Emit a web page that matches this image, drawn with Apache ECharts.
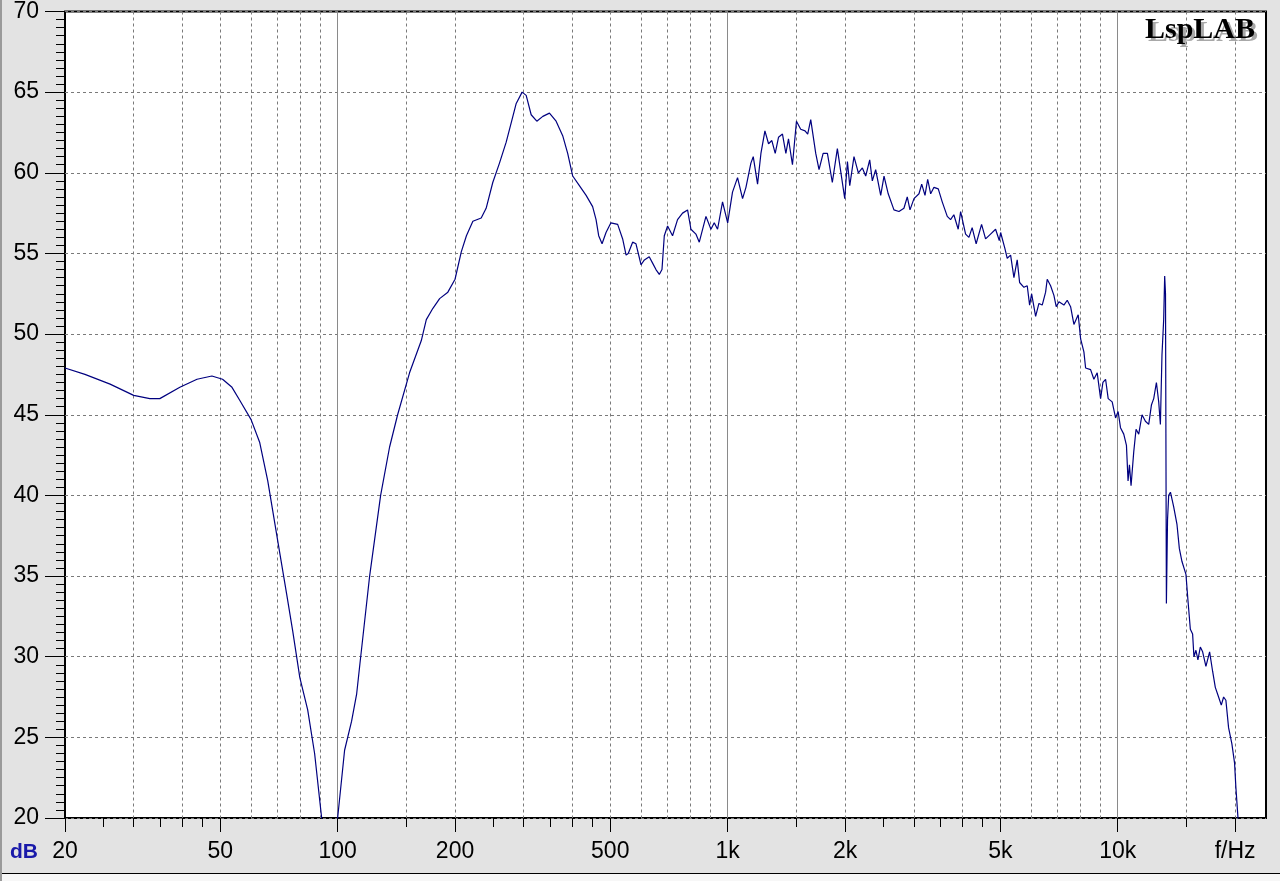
<!DOCTYPE html>
<html>
<head>
<meta charset="utf-8">
<script src="https://cdn.jsdelivr.net/npm/echarts@6/dist/echarts.min.js"></script>
<style>
html,body{margin:0;padding:0;background:#e3e3e3;}
#chart{width:1280px;height:881px;}
</style>
</head>
<body>
<div id="chart"></div>
<script>
// Frequency response (f in Hz, level in dB)
const freqHz = [
  20,22.5,26.1,30,33,35,39.4,43.6,47.6,50.7,53.6,56.1,60,63.1,66.2,70.2,74,76.7,80,83.8,87.3,91,93.5,
  97.5,100,104.2,108.6,111.9,114,120.8,128.9,135.9,142.5,152.9,163.9,168.8,175.5,182.6,191.7,200,
  207.5,213.9,222.2,233.4,240.3,249.9,260,270.5,278.6,287,297.2,304.4,313.5,324.1,335.8,349.2,363.2,
  377.6,388.9,400.6,416.7,433.6,450.6,459.8,467,476.4,487.7,502,522.4,538,549,556,570.6,582,599.7,
  611.6,629.4,642,654.9,667.9,678.6,687.9,701.4,722.3,743.9,766.2,789.2,805.1,829,845.7,879.7,906,
  923.8,942.1,970.2,1000,1029,1060,1092,1114,1147,1163,1193,1217,1246,1273,1298,1324,1350,1382,1410,
  1432,1466,1501,1539,1579,1604,1633,1682,1715,1757,1802,1855,1911,1996,2028,2056,2108,2163,2215,
  2259,2313,2349,2396,2468,2517,2580,2669,2749,2831,2887,2934,3004,3094,3144,3206,3257,3315,3380,
  3467,3549,3656,3728,3801,3900,3956,4074,4155,4235,4336,4477,4584,4721,4863,4970,5010,5139,5209,
  5314,5419,5525,5604,5748,5862,5945,6016,6160,6281,6405,6534,6596,6729,6862,6956,7068,7279,7423,
  7572,7722,7920,8034,8191,8274,8521,8688,8860,9039,9163,9310,9454,9679,9875,10024,10166,10364,
  10530,10630,10718,10820,10993,11144,11322,11545,11777,12009,12202,12369,12567,12739,12866,12987,
  13119,13196,13260,13330,13420,13512,13653,13913,14190,14391,14615,14962,15139,15355,15562,15684,
  15869,16057,16287,16510,16833,17205,17512,17793,18141,18432,18687,18939,19242,19622,19936,20090,
  20330,20800
];
const levelDb = [
  47.9,47.5,46.9,46.2,46.0,46.0,46.7,47.2,47.4,47.2,46.7,45.9,44.7,43.3,40.9,37.2,33.9,31.6,28.7,26.7,24.0,20.0,12,
  12,20.0,24.2,26.0,27.7,29.5,35,40,43,45,47.6,49.6,50.9,51.6,52.2,52.6,53.4,
  55.1,56.1,57.0,57.2,57.8,59.4,60.6,61.9,63.1,64.3,65.0,64.8,63.6,63.2,63.5,63.7,63.2,
  62.3,61.2,59.8,59.2,58.6,57.9,57.1,56.1,55.6,56.3,56.9,56.8,55.9,54.9,55.0,55.7,55.6,54.3,
  54.6,54.8,54.4,54.0,53.7,54.0,56.1,56.7,56.1,57.1,57.5,57.7,56.5,56.2,55.7,57.3,56.5,
  56.9,56.5,58.2,56.9,58.8,59.7,58.4,59.1,60.6,61.0,59.3,61.2,62.6,61.8,62.0,61.2,62.2,62.4,61.2,
  62.1,60.5,63.2,62.7,62.6,62.4,63.3,61.2,60.2,61.2,61.2,59.4,61.5,58.4,60.7,59.2,61.0,60.0,60.3,
  59.8,60.8,59.5,60.2,58.6,59.8,58.7,57.7,57.6,57.8,58.5,57.7,58.4,58.7,59.3,58.6,59.6,58.7,59.1,
  59.0,58.2,57.3,57.1,57.4,56.5,57.6,56.2,56.0,56.6,55.6,56.8,55.9,56.2,56.5,55.8,56.3,55.3,54.7,
  54.9,53.5,54.6,53.2,52.9,53.0,51.8,52.5,51.1,51.9,51.8,52.6,53.4,53.0,52.4,51.7,52.0,51.8,52.1,
  51.7,50.6,51.2,49.7,48.9,47.9,47.8,47.2,47.6,46.0,47.0,47.2,46.0,45.8,44.8,45.2,44.2,43.8,
  43.1,40.9,41.9,40.6,42.7,44.1,43.8,45.0,44.6,44.4,45.6,46.0,47.0,45.8,44.4,48.7,
  50.9,53.6,52.5,33.3,38.5,40.0,40.2,39.3,38.2,36.7,35.9,35.1,33.5,31.7,31.4,30.0,
  30.4,29.8,30.6,30.3,29.4,30.3,29.1,28.1,27.5,27.0,27.5,27.3,25.6,24.6,23.4,21.9,
  20.1,17
];

// Axis ticks / labels / grid positions (Hz)
const xMajorTicks = [20,50,100,200,500,1000,2000,5000,10000,20000];
const xMajorLabels = ['20','50','100','200','500','1k','2k','5k','10k','f/Hz'];
const xMinorTicks = [25,30,35,40,45,150,250,300,350,400,450,1500,2500,3000,3500,4000,4500,15000];
const xDashedGrid = [30,40,50,60,70,80,90,150,200,300,400,500,600,700,800,900,1500,2000,3000,4000,5000,6000,7000,8000,9000,15000,20000];
const xSolidGrid = [100,1000,10000];
const yMin = 20, yMax = 70, yStep = 5;

const FONT = '"Liberation Sans", Arial, sans-serif';
const chart = echarts.init(document.getElementById('chart'), null, {renderer:'canvas'});

function baseX(extra){
  return Object.assign({
    type:'log', min:20, max:24000, gridIndex:0, position:'bottom',
    axisLine:{show:false}, axisLabel:{show:false}, axisTick:{show:false},
    splitLine:{show:false}, minorTick:{show:false}, minorSplitLine:{show:false}
  }, extra);
}

const option = {
  animation:false,
  backgroundColor:'#e3e3e3',
  grid:{left:65, right:14, top:8, bottom:63, show:true, backgroundColor:'#ffffff', borderColor:'#000000', borderWidth:2, containLabel:false},
  xAxis:[
    baseX({
      axisTick:{show:true, customValues:xMajorTicks, length:14, lineStyle:{color:'#000', width:1}},
      axisLabel:{show:true, customValues:xMajorTicks, margin:22, fontSize:23, fontFamily:FONT, color:'#000',
        formatter:function(v){const i=xMajorTicks.findIndex(t=>Math.abs(t-v)<1e-6*t); return i>=0?xMajorLabels[i]:'';}},
      z:5
    }),
    baseX({axisTick:{show:true, customValues:xMinorTicks, length:9, lineStyle:{color:'#000', width:1}}}),
    baseX({axisTick:{show:false, customValues:xDashedGrid}, splitLine:{show:true, lineStyle:{color:'#7a7a7a', width:1, type:[3,3]}}}),
    baseX({axisTick:{show:false, customValues:xSolidGrid}, splitLine:{show:true, lineStyle:{color:'#8a8a8a', width:1, type:'solid'}}})
  ],
  yAxis:{
    type:'value', min:yMin, max:yMax, interval:yStep,
    axisLine:{show:false},
    axisTick:{show:true, length:20, lineStyle:{color:'#000'}},
    minorTick:{show:true, splitNumber:10, length:9, lineStyle:{color:'#000'}},
    axisLabel:{fontSize:23, fontFamily:FONT, color:'#000', margin:26},
    splitLine:{show:true, lineStyle:{color:'#7a7a7a', width:1, type:[3,3]}}
  },
  series:[{
    type:'line', xAxisIndex:0, yAxisIndex:0,
    data: freqHz.map((f,i)=>[f, levelDb[i]]),
    showSymbol:false, symbol:'none', smooth:false, clip:true,
    lineStyle:{color:'#00007f', width:1.2},
    z:10
  }],
  graphic:[
    {type:'rect', left:0, top:873, shape:{width:1280, height:8}, style:{fill:'#f7f7f7'}, silent:true},
    {type:'line', shape:{x1:0, y1:873.5, x2:1280, y2:873.5}, style:{stroke:'#000', lineWidth:1}, silent:true},
    {type:'line', shape:{x1:1, y1:0, x2:1, y2:881}, style:{stroke:'#9a9a9a', lineWidth:2}, silent:true},
    {type:'text', left:10, top:842, style:{text:'dB', font:'bold 21px "Liberation Sans", Arial, sans-serif', fill:'#1a1aaa'}, silent:true},
    {type:'text', right:25, top:15, z:20, style:{text:'LspLAB', font:'bold 30px "Liberation Serif", "Times New Roman", serif', fill:'#000',
      shadowColor:'#a8a8a8', shadowOffsetX:3, shadowOffsetY:3, shadowBlur:0.01,
      textShadowColor:'#a8a8a8', textShadowOffsetX:3, textShadowOffsetY:3, textShadowBlur:0.01}, silent:true}
  ]
};
chart.setOption(option);
</script>
</body>
</html>
